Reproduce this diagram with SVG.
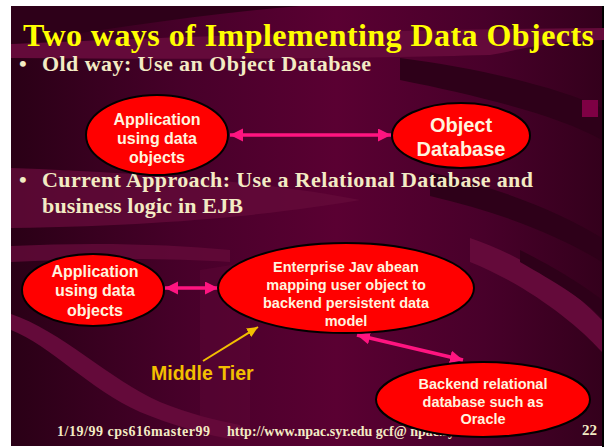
<svg xmlns="http://www.w3.org/2000/svg" width="604" height="447" viewBox="0 0 604 447">
<defs>
<style>
.bt{font-family:"Liberation Serif","Times New Roman",serif;font-weight:bold;fill:#f3ebc4}
.nt{font-family:"Liberation Sans",Arial,sans-serif;font-weight:bold;fill:#fff3df;text-anchor:middle}
.el{fill:#ff0000;stroke:#000;stroke-width:2}
.pk{stroke:#ff1480;stroke-width:3.5;fill:none;marker-start:url(#ph);marker-end:url(#ph)}
.lt{fill:#640a3a}
.dk{fill:#2e0019}
</style>
<linearGradient id="bg" x1="0" y1="0" x2="1" y2="0">
<stop offset="0" stop-color="#2a0016"/>
<stop offset="0.3" stop-color="#48002a"/>
<stop offset="0.55" stop-color="#5a0032"/>
<stop offset="0.8" stop-color="#48002a"/>
<stop offset="1" stop-color="#34001c"/>
</linearGradient>
<marker id="ph" markerUnits="userSpaceOnUse" markerWidth="14" markerHeight="14" refX="13" refY="6.5" orient="auto-start-reverse">
<path d="M0,0L13,6.5L0,13z" fill="#ff1480"/>
</marker>
<marker id="yh" markerUnits="userSpaceOnUse" markerWidth="12" markerHeight="12" refX="11" refY="5" orient="auto">
<path d="M0,0L11,5L0,10z" fill="#f2bf00"/>
</marker>
</defs>
<g id="background">
<rect x="11" y="6" width="591" height="440" fill="url(#bg)"/>
<rect x="602" y="6" width="2" height="441" fill="#000"/>
<path class="dk" d="M11,6H300C200,14 100,30 11,44Z"/>
<path class="lt" d="M11,44C150,38 350,30 604,28L604,40C540,42 520,50 490,55C380,58 200,60 11,58Z"/>
<path class="dk" d="M400,58C480,68 560,88 602,108L602,140C560,116 480,96 400,80Z"/>
<path class="lt" d="M11,168C120,172 260,180 360,200C300,210 200,225 11,228Z" opacity="0.8"/>
<path class="dk" d="M430,172C500,188 560,212 602,238L602,262C560,236 500,212 430,196Z"/>
<path class="lt" d="M470,238C530,258 580,296 602,320L602,352C575,322 525,284 470,262Z"/>
<path class="dk" d="M520,250C560,270 590,290 602,300L602,318C585,300 555,282 520,262Z"/>
<path class="lt" d="M11,246C90,242 170,244 230,250L230,262C170,258 90,258 11,262Z" opacity="0.8"/>
<path class="lt" d="M11,314C60,330 110,380 160,402C190,414 215,420 240,425L240,440C205,436 170,424 140,412C90,390 50,345 11,330Z"/>
<path class="lt" d="M200,270L250,262L250,446L200,446Z" opacity="0.35"/>
<rect x="582" y="100" width="16" height="17" fill="#7e0044"/>
</g>
<g id="title">
<text x="23" y="46" font-family="'Liberation Serif','Times New Roman',serif" font-weight="bold" font-size="32" fill="#ffff00" textLength="571" lengthAdjust="spacing">Two ways of Implementing Data Objects</text>
</g>
<g id="bullets">
<text class="bt" x="19" y="71" font-size="22">•</text>
<text class="bt" x="42" y="71" font-size="22" textLength="329" lengthAdjust="spacing">Old way: Use an Object Database</text>
<text class="bt" x="19" y="187" font-size="22">•</text>
<text class="bt" x="42" y="187" font-size="22" textLength="491" lengthAdjust="spacing">Current Approach: Use a Relational Database and</text>
<text class="bt" x="42" y="213" font-size="22" textLength="201" lengthAdjust="spacing">business logic in EJB</text>
</g>
<g id="footer">
<text class="bt" x="57" y="436" font-size="14" textLength="153" lengthAdjust="spacing">1/19/99 cps616master99</text>
<text class="bt" x="227" y="436" font-size="14">http://www.npac.syr.edu gcf@ npac.syr.edu</text>
<text class="bt" x="582" y="435" font-size="15">22</text>
</g>
<g id="connectors">
<line class="pk" x1="230" y1="135" x2="391" y2="135"/>
<line class="pk" x1="165" y1="288" x2="218" y2="288"/>
<line class="pk" x1="357" y1="335" x2="463" y2="360"/>
<line x1="203" y1="361" x2="258" y2="327" stroke="#f2bf00" stroke-width="2" marker-end="url(#yh)"/>
</g>
<g id="node-app-old">
<ellipse class="el" cx="157" cy="135" rx="71" ry="40"/>
<text class="nt" font-size="16"><tspan x="157" y="125">Application</tspan><tspan x="157" y="144">using data</tspan><tspan x="157" y="163">objects</tspan></text>
</g>
<g id="node-objdb">
<ellipse class="el" cx="461" cy="135.5" rx="69" ry="32.5"/>
<text class="nt" font-size="20"><tspan x="461" y="132">Object</tspan><tspan x="461" y="156">Database</tspan></text>
</g>
<g id="node-app-new">
<ellipse class="el" cx="93" cy="290" rx="71" ry="36"/>
<text class="nt" font-size="16"><tspan x="95" y="277">Application</tspan><tspan x="95" y="296">using data</tspan><tspan x="95" y="315.5">objects</tspan></text>
</g>
<g id="node-ejb">
<ellipse class="el" cx="346" cy="288" rx="128" ry="45"/>
<text class="nt" font-size="14.5"><tspan x="346" y="272">Enterprise Jav abean</tspan><tspan x="346" y="290">mapping user object to</tspan><tspan x="346" y="308">backend persistent data</tspan><tspan x="346" y="326">model</tspan></text>
</g>
<g id="node-backend">
<ellipse class="el" cx="483" cy="399.5" rx="107" ry="37.5"/>
<text class="nt" font-size="14.5"><tspan x="483" y="389">Backend relational</tspan><tspan x="483" y="407">database such as</tspan><tspan x="483" y="424">Oracle</tspan></text>
</g>
<g id="label-middle-tier">
<text x="151" y="380" font-family="'Liberation Sans',Arial,sans-serif" font-weight="bold" font-size="19.5" fill="#f2bf00">Middle Tier</text>
</g>
</svg>
